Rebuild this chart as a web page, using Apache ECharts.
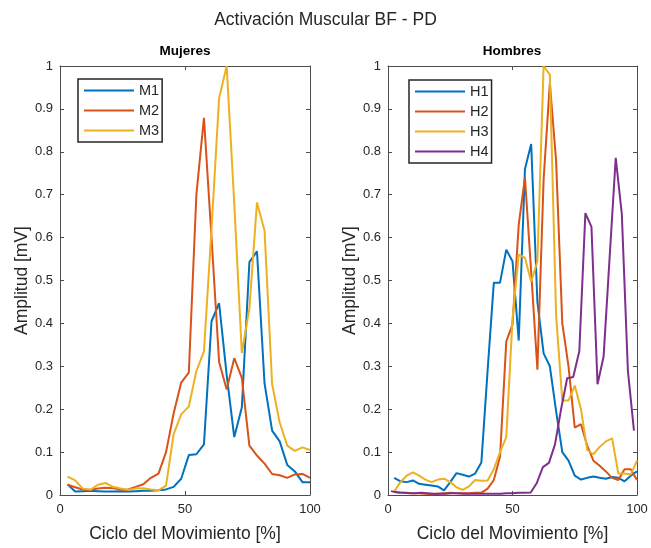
<!DOCTYPE html>
<html><head><meta charset="utf-8">
<script src="https://cdn.jsdelivr.net/npm/echarts@6/dist/echarts.min.js"></script>
<style>html,body{margin:0;padding:0;background:#fff}#c{width:651px;height:548px}</style>
</head><body><div id="c"></div>
<script>
// ---- Data ----
var xLeft = [3.03, 6.06, 9.09, 12.12, 15.15, 18.18, 21.21, 24.24, 27.27, 30.3, 33.33, 36.36, 39.39, 42.42, 45.45, 48.48, 51.52, 54.55, 57.58, 60.61, 63.64, 66.67, 69.7, 72.73, 75.76, 78.79, 81.82, 84.85, 87.88, 90.91, 93.94, 96.97, 100];
var m1 = [0.025, 0.008, 0.009, 0.010, 0.009, 0.008, 0.008, 0.009, 0.008, 0.009, 0.010, 0.010, 0.011, 0.013, 0.019, 0.038, 0.093, 0.095, 0.118, 0.405, 0.447, 0.280, 0.135, 0.204, 0.543, 0.568, 0.260, 0.150, 0.125, 0.070, 0.055, 0.030, 0.030];
var m2 = [0.024, 0.018, 0.013, 0.012, 0.015, 0.017, 0.016, 0.012, 0.013, 0.019, 0.025, 0.040, 0.050, 0.100, 0.190, 0.262, 0.285, 0.700, 0.879, 0.600, 0.310, 0.246, 0.319, 0.273, 0.115, 0.092, 0.073, 0.049, 0.046, 0.040, 0.048, 0.049, 0.040];
var m3 = [0.043, 0.034, 0.015, 0.012, 0.024, 0.028, 0.019, 0.015, 0.012, 0.015, 0.016, 0.013, 0.011, 0.022, 0.142, 0.188, 0.206, 0.289, 0.335, 0.620, 0.925, 1.000, 0.680, 0.331, 0.435, 0.682, 0.616, 0.258, 0.169, 0.115, 0.103, 0.111, 0.105];

var xRight = [2.5, 5, 7.5, 10, 12.5, 15, 17.5, 20, 22.5, 25, 27.5, 30, 32.5, 35, 37.5, 40, 42.5, 45, 47.5, 50, 52.5, 55, 57.5, 60, 62.5, 65, 67.5, 70, 72.5, 75, 77.5, 80, 82.5, 85, 87.5, 90, 92.5, 95, 97.5, 100];
var h1 = [0.040, 0.032, 0.030, 0.034, 0.026, 0.024, 0.022, 0.020, 0.011, 0.030, 0.051, 0.047, 0.043, 0.050, 0.076, 0.290, 0.495, 0.495, 0.572, 0.545, 0.360, 0.760, 0.818, 0.450, 0.330, 0.300, 0.196, 0.100, 0.080, 0.045, 0.036, 0.040, 0.043, 0.040, 0.038, 0.042, 0.040, 0.032, 0.045, 0.055];
var h2 = [0.008, 0.006, 0.005, 0.004, 0.004, 0.003, 0.002, 0.003, 0.004, 0.005, 0.004, 0.004, 0.004, 0.005, 0.005, 0.015, 0.035, 0.090, 0.358, 0.397, 0.630, 0.740, 0.520, 0.292, 0.736, 0.960, 0.780, 0.400, 0.300, 0.157, 0.165, 0.115, 0.080, 0.068, 0.055, 0.040, 0.035, 0.060, 0.060, 0.035];
var h3 = [0.008, 0.030, 0.045, 0.053, 0.045, 0.036, 0.030, 0.036, 0.038, 0.030, 0.018, 0.012, 0.020, 0.035, 0.033, 0.034, 0.060, 0.100, 0.135, 0.410, 0.560, 0.553, 0.497, 0.545, 1.000, 0.980, 0.420, 0.220, 0.220, 0.255, 0.200, 0.105, 0.095, 0.112, 0.125, 0.132, 0.050, 0.050, 0.048, 0.080];
var xH4 = [1.22, 3.66, 6.1, 8.54, 10.98, 13.41, 15.85, 18.29, 20.73, 23.17, 25.61, 28.05, 30.49, 32.93, 35.37, 37.8, 40.24, 42.68, 45.12, 47.56, 50, 52.44, 54.88, 57.32, 59.76, 62.2, 64.63, 67.07, 69.51, 71.95, 74.39, 76.83, 79.27, 81.71, 84.15, 86.59, 89.02, 91.46, 93.9, 96.34, 98.78];
var h4 = [0.009, 0.006, 0.005, 0.004, 0.004, 0.005, 0.004, 0.003, 0.003, 0.003, 0.004, 0.004, 0.003, 0.003, 0.003, 0.003, 0.003, 0.003, 0.003, 0.004, 0.004, 0.005, 0.005, 0.006, 0.028, 0.065, 0.075, 0.118, 0.200, 0.272, 0.275, 0.335, 0.657, 0.625, 0.258, 0.323, 0.555, 0.786, 0.655, 0.290, 0.150];

var mainTitle = 'Activación Muscular BF - PD';
var leftTitle = 'Mujeres', rightTitle = 'Hombres';
var xName = 'Ciclo del Movimiento [%]', yName = 'Amplitud [mV]';

// ---- Chart ----
var FONT = '"Liberation Sans", Arial, Helvetica, sans-serif';
var TXT = '#262626', AX = '#4d4d4d';
var C = ['#0072BD', '#D95319', '#EDB120', '#7E2F8E'];

function pairs(xs, ys) { return xs.map(function (x, i) { return [x, ys[i]]; }); }

function xAx(grid, pos, labels) {
  return {
    type: 'value', gridIndex: grid, position: pos, min: 0, max: 100, interval: 50,
    name: labels ? xName : '', nameLocation: 'middle', nameGap: 30,
    nameTextStyle: { fontFamily: FONT, fontSize: 17.5, color: TXT },
    axisLine: { show: true, onZero: false, lineStyle: { color: AX, width: 1 } },
    axisTick: { show: true, inside: true, length: 4, lineStyle: { color: AX } },
    axisLabel: { show: labels, margin: 8, fontFamily: FONT, fontSize: 13, color: TXT },
    splitLine: { show: false }
  };
}
function yAx(grid, pos, labels) {
  return {
    type: 'value', gridIndex: grid, position: pos, min: 0, max: 1, interval: 0.1,
    name: labels ? yName : '', nameLocation: 'middle', nameGap: 29,
    nameTextStyle: { fontFamily: FONT, fontSize: 17.5, color: TXT },
    axisLine: { show: true, onZero: false, lineStyle: { color: AX, width: 1 } },
    axisTick: { show: true, inside: true, length: 4, lineStyle: { color: AX } },
    axisLabel: { show: labels, margin: 7, fontFamily: FONT, fontSize: 13, color: TXT,
      formatter: function (v) { return String(Math.round(v * 10) / 10); } },
    splitLine: { show: false }
  };
}
function line(name, data, xi, yi, color) {
  return { name: name, type: 'line', data: data, xAxisIndex: xi, yAxisIndex: yi,
    symbol: 'none', showSymbol: false, clip: true, lineStyle: { width: 2, color: color }, itemStyle: { color: color } };
}
function legend(left, top, names) {
  return { orient: 'vertical', left: left, top: top, data: names, itemWidth: 50, itemHeight: 14, itemGap: 5,
    padding: [4, 3, 4, 5], borderColor: '#262626', borderWidth: 1.5, backgroundColor: '#fff',
    itemStyle: { opacity: 0 }, lineStyle: { width: 2 },
    textStyle: { fontFamily: FONT, fontSize: 14.5, color: TXT }, selectedMode: false };
}

var chart = echarts.init(document.getElementById('c'), null, { renderer: 'canvas' });
chart.setOption({
  animation: false,
  backgroundColor: '#fff',
  grid: [
    { left: 60, top: 66, width: 250, height: 432 },
    { left: 388, top: 66, width: 249, height: 432 }
  ],
  xAxis: [xAx(0, 'bottom', true), xAx(0, 'top', false), xAx(1, 'bottom', true), xAx(1, 'top', false)],
  yAxis: [yAx(0, 'left', true), yAx(0, 'right', false), yAx(1, 'left', true), yAx(1, 'right', false)],
  legend: [legend(78, 79, ['M1', 'M2', 'M3']), legend(409, 80, ['H1', 'H2', 'H3', 'H4'])],
  graphic: [
    { type: 'text', left: 'center', top: 11, style: { text: mainTitle, fontFamily: FONT, fontSize: 17.5, fill: TXT } },
    { type: 'text', x: 185, y: 51, style: { text: leftTitle, fontFamily: FONT, fontSize: 13.5, fontWeight: 'bold', fill: '#000', align: 'center', verticalAlign: 'middle' } },
    { type: 'text', x: 512, y: 51, style: { text: rightTitle, fontFamily: FONT, fontSize: 13.5, fontWeight: 'bold', fill: '#000', align: 'center', verticalAlign: 'middle' } }
  ],
  series: [
    line('M1', pairs(xLeft, m1), 0, 0, C[0]),
    line('M2', pairs(xLeft, m2), 0, 0, C[1]),
    line('M3', pairs(xLeft, m3), 0, 0, C[2]),
    line('H1', pairs(xRight, h1), 2, 2, C[0]),
    line('H2', pairs(xRight, h2), 2, 2, C[1]),
    line('H3', pairs(xRight, h3), 2, 2, C[2]),
    line('H4', pairs(xH4, h4), 2, 2, C[3])
  ]
});
</script></body></html>
